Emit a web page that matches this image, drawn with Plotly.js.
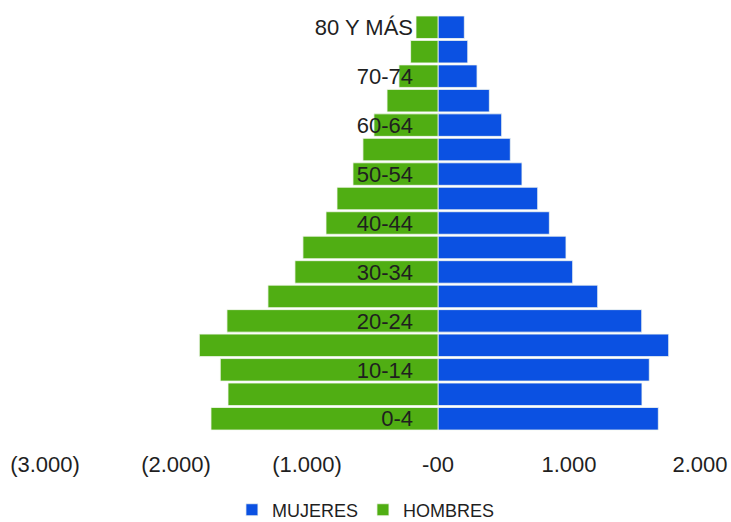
<!DOCTYPE html>
<html>
<head>
<meta charset="utf-8">
<script src="https://cdn.plot.ly/plotly-3.0.1.min.js"></script>
<style>
  html, body { margin: 0; padding: 0; background: #ffffff; }
  #chart { width: 731px; height: 522px; }
</style>
</head>
<body>
<div id="chart"></div>
<script>
// Age groups (bottom to top)
const ageGroups = ['0-4','5-9','10-14','15-19','20-24','25-29','30-34','35-39','40-44',
                   '45-49','50-54','55-59','60-64','65-69','70-74','75-79','80 Y MÁS'];
// Series values (persons)
const mujeres = [1682, 1557, 1613, 1761, 1555, 1219, 1028, 977, 850, 761, 641, 552, 486, 392, 298, 227, 201];
const hombres = [1733, 1603, 1662, 1822, 1611, 1298, 1092, 1031, 855, 771, 649, 573, 489, 389, 298, 209, 168];
// Axis tick values / labels
const xTickVals = [-3000, -2000, -1000, 0, 1000, 2000];
const xTickText = ['(3.000)', '(2.000)', '(1.000)', '-00', '1.000', '2.000'];
const yTickVals = ['0-4','10-14','20-24','30-34','40-44','50-54','60-64','70-74','80 Y MÁS'];

const BLUE = '#0b51e2';
const GREEN = '#50ae13';

const traces = [
  {
    type: 'bar', orientation: 'h', name: 'MUJERES',
    y: ageGroups, x: mujeres,
    marker: { color: BLUE, line: { color: '#f4f8f0', width: 0.8 } },
    hoverinfo: 'skip'
  },
  {
    type: 'bar', orientation: 'h', name: 'HOMBRES',
    y: ageGroups, x: hombres.map(v => -v),
    marker: { color: GREEN, line: { color: '#f4f8f0', width: 0.8 } },
    hoverinfo: 'skip'
  }
];

const layout = {
  width: 731, height: 522,
  margin: { l: 45, r: 31, t: 15, b: 91, autoexpand: false },
  paper_bgcolor: '#ffffff', plot_bgcolor: '#ffffff',
  barmode: 'relative', bargap: 0.08,
  font: { family: 'Liberation Sans, Arial, sans-serif', color: '#1f1f1f' },
  showlegend: true,
  legend: {
    orientation: 'h', x: 0.49, xanchor: 'center', y: -0.19, yanchor: 'middle',
    font: { size: 18, color: '#1f1f1f' }, traceorder: 'normal',
    itemwidth: 30
  },
  xaxis: {
    range: [-3000, 2000], tickmode: 'array', tickvals: xTickVals, ticktext: xTickText,
    showgrid: false, zeroline: false, showline: false, ticks: '',
    tickfont: { size: 22, color: '#1f1f1f' }, ticklabelstandoff: 18,
    fixedrange: true
  },
  yaxis: {
    type: 'category', categoryorder: 'array', categoryarray: ageGroups,
    range: [-0.5, 16.5],
    anchor: 'free', position: 0.6,
    tickmode: 'array', tickvals: yTickVals,
    showgrid: false, zeroline: false, showline: false, ticks: '',
    tickfont: { size: 22, color: '#1f1f1f' }, ticklabelstandoff: 25,
    layer: 'above traces', fixedrange: true
  }
};

Plotly.newPlot('chart', traces, layout, { displayModeBar: false, staticPlot: true });
</script>
</body>
</html>
